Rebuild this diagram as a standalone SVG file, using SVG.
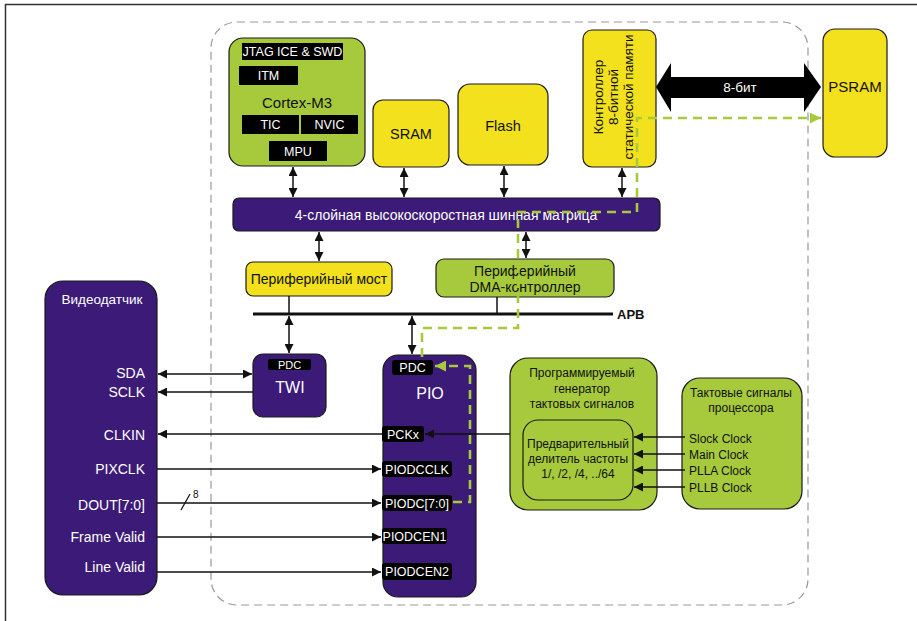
<svg xmlns="http://www.w3.org/2000/svg" width="917" height="621" viewBox="0 0 917 621">
<style>
text{font-family:"Liberation Sans",Arial,sans-serif;}
.purple{fill:#3b1a78;stroke:#1a1a1a;stroke-width:1.2;}
.yellow{fill:#f2e11c;stroke:#1a1a1a;stroke-width:1.2;}
.green{fill:#a6ca3b;stroke:#1a1a1a;stroke-width:1.2;}
.lbl{fill:#000;}
.wt{fill:#fff;}
.bt{fill:#111;}
.c{text-anchor:middle;}
.r{text-anchor:end;}
.ln{stroke:#111;stroke-width:1.5;fill:none;}
.dbl{marker-start:url(#ah);marker-end:url(#ah);}
.one{marker-end:url(#ah);}
.gd{stroke:#a6ca3b;stroke-width:2.6;fill:none;stroke-dasharray:9 6;}
</style>
<defs>
<marker id="ah" viewBox="0 0 10 10" refX="10" refY="5" markerWidth="10" markerHeight="9" markerUnits="userSpaceOnUse" orient="auto-start-reverse"><path d="M0,0 L10,5 L0,10 z" fill="#111"/></marker>
<marker id="ga" viewBox="0 0 10 10" refX="10" refY="5" markerWidth="12" markerHeight="11" markerUnits="userSpaceOnUse" orient="auto"><path d="M0,0 L10,5 L0,10 z" fill="#a6ca3b"/></marker>
</defs>
<rect width="917" height="621" fill="#fff"/>
<path d="M5.5,621 V4.5 H917" fill="none" stroke="#333" stroke-width="1.5"/>
<rect id="soc" x="211" y="22" width="597" height="583" rx="26" fill="none" stroke="#999" stroke-width="1.2" stroke-dasharray="8 5"/>

<g id="cortex">
<rect class="green" x="229" y="38" width="136" height="128" rx="14"/>
<rect class="lbl" x="242" y="43" width="101" height="17"/>
<text class="wt c" x="292.5" y="56" font-size="12.5">JTAG ICE &amp; SWD</text>
<rect class="lbl" x="239" y="66" width="59" height="19"/>
<text class="wt c" x="268.5" y="80" font-size="12.5">ITM</text>
<text class="bt c" x="297" y="108" font-size="15">Cortex-M3</text>
<rect class="lbl" x="242" y="115" width="57" height="19"/>
<text class="wt c" x="270.5" y="129" font-size="12.5">TIC</text>
<rect class="lbl" x="301" y="115" width="57" height="19"/>
<text class="wt c" x="329.5" y="129" font-size="12.5">NVIC</text>
<rect class="lbl" x="269" y="141" width="58" height="20"/>
<text class="wt c" x="298" y="156" font-size="12.5">MPU</text>
</g>
<g id="sram"><rect class="yellow" x="373" y="100" width="76" height="67" rx="10"/><text class="bt c" x="411" y="139" font-size="14.5">SRAM</text></g>
<g id="flash"><rect class="yellow" x="458" y="84" width="90" height="81" rx="12"/><text class="bt c" x="503" y="131" font-size="14.5">Flash</text></g>
<g id="smc"><rect class="yellow" x="583" y="30" width="73" height="137" rx="9"/>
<g transform="translate(613,97) rotate(-90)"><text class="bt c" x="0" y="-10" font-size="13.5">Контроллер</text><text class="bt c" x="0" y="5" font-size="13.5">8-битной</text><text class="bt c" x="0" y="20" font-size="13.5">статической памяти</text></g></g>
<g id="psram"><rect class="yellow" x="823" y="29" width="64" height="128" rx="12"/><text class="bt c" x="855" y="92" font-size="15">PSRAM</text></g>
<g id="bus"><rect class="purple" x="233" y="198" width="427" height="33" rx="6"/><text class="wt c" x="446" y="220" font-size="14">4-слойная высокоскоростная шинная матрица</text></g>
<g id="bridge"><rect class="yellow" x="246" y="262" width="146" height="34" rx="7"/><text class="bt c" x="319" y="284" font-size="14">Периферийный мост</text></g>
<g id="dma"><rect class="green" x="436" y="259" width="178" height="38" rx="8"/><text class="bt c" x="525" y="276" font-size="14">Периферийный</text><text class="bt c" x="525" y="292" font-size="14">DMA-контроллер</text></g>
<g id="sensor"><rect class="purple" x="45" y="281" width="112" height="314" rx="18"/>
<text class="wt c" x="102" y="304" font-size="13.5">Видеодатчик</text>
<text class="wt r" x="145" y="378" font-size="14">SDA</text>
<text class="wt r" x="145" y="397" font-size="14">SCLK</text>
<text class="wt r" x="145" y="440" font-size="14">CLKIN</text>
<text class="wt r" x="145" y="474" font-size="14">PIXCLK</text>
<text class="wt r" x="145" y="510" font-size="14">DOUT[7:0]</text>
<text class="wt r" x="145" y="542" font-size="14">Frame Valid</text>
<text class="wt r" x="145" y="572" font-size="14">Line Valid</text></g>
<g id="twi"><rect class="purple" x="253" y="354" width="73" height="63" rx="10"/>
<rect class="lbl" x="268" y="359" width="43" height="11" rx="2"/><text class="wt c" x="289.5" y="369" font-size="11">PDC</text>
<text class="wt c" x="290" y="393" font-size="16">TWI</text></g>
<g id="pio"><rect class="purple" x="383" y="355" width="93" height="242" rx="15"/>
<rect class="lbl" x="392" y="360" width="41" height="15" rx="3"/><text class="wt c" x="412.5" y="372" font-size="12.5">PDC</text>
<text class="wt c" x="430" y="399" font-size="16">PIO</text>
<rect class="lbl" x="382" y="426" width="42" height="16" rx="3"/><text class="wt c" x="403" y="439" font-size="12.5">PCKx</text>
<rect class="lbl" x="382" y="461" width="70" height="16" rx="3"/><text class="wt c" x="417" y="474" font-size="12.5">PIODCCLK</text>
<rect class="lbl" x="382" y="495" width="70" height="16" rx="3"/><text class="wt c" x="417" y="508" font-size="12.5">PIODC[7:0]</text>
<rect class="lbl" x="382" y="528" width="65" height="16" rx="3"/><text class="wt c" x="414.5" y="541" font-size="12.5">PIODCEN1</text>
<rect class="lbl" x="382" y="563" width="70" height="17" rx="3"/><text class="wt c" x="417" y="576" font-size="12.5">PIODCEN2</text></g>
<g id="clkgen"><rect class="green" x="510" y="358" width="147" height="152" rx="18"/>
<text class="bt c" x="582" y="377" font-size="12">Программируемый</text>
<text class="bt c" x="582" y="393" font-size="12">генератор</text>
<text class="bt c" x="582" y="408" font-size="12">тактовых сигналов</text>
<rect class="green" x="523" y="420" width="110" height="80" rx="15"/>
<text class="bt c" x="578" y="448" font-size="12">Предварительный</text>
<text class="bt c" x="578" y="463" font-size="12">делитель частоты</text>
<text class="bt c" x="578" y="478" font-size="12">1/, /2, /4, ../64</text></g>
<g id="cpuclk"><rect class="green" x="682" y="378" width="120" height="131" rx="18"/>
<text class="bt c" x="741" y="397" font-size="12">Тактовые сигналы</text>
<text class="bt c" x="741" y="412" font-size="12">процессора</text>
<text class="bt" x="689" y="443" font-size="12">Slock Clock</text>
<text class="bt" x="689" y="459" font-size="12">Main Clock</text>
<text class="bt" x="689" y="475" font-size="12">PLLA Clock</text>
<text class="bt" x="689" y="492" font-size="12">PLLB Clock</text></g>

<g id="connectors">
<line class="ln dbl" x1="293" y1="167" x2="293" y2="197"/>
<line class="ln dbl" x1="404" y1="168" x2="404" y2="197"/>
<line class="ln dbl" x1="504" y1="166" x2="504" y2="197"/>
<line class="ln dbl" x1="622" y1="168" x2="622" y2="197"/>
<line class="ln dbl" x1="319" y1="232" x2="319" y2="261"/>
<line class="ln dbl" x1="526" y1="232" x2="526" y2="258"/>
<line class="ln" x1="289" y1="296" x2="289" y2="314"/>
<line class="ln" x1="497" y1="297" x2="497" y2="314"/>
<line x1="253" y1="314" x2="613" y2="314" stroke="#111" stroke-width="3"/>
<text x="617" y="319" font-size="13" font-weight="bold" fill="#111">APB</text>
<line class="ln dbl" x1="289" y1="316" x2="289" y2="353"/>
<line class="ln dbl" x1="412" y1="316" x2="412" y2="354"/>
<polygon points="656,87 671,63 671,77 804,77 804,63 821,87 804,112 804,98 671,98 671,112" fill="#000"/>
<text class="wt c" x="740" y="92" font-size="13.5">8-бит</text>
<line class="ln dbl" x1="158" y1="374" x2="252" y2="374"/>
<line class="ln one" x1="253" y1="392" x2="158" y2="392"/>
<line class="ln one" x1="510" y1="434" x2="425" y2="434"/>
<line class="ln one" x1="382" y1="434" x2="158" y2="434"/>
<line class="ln one" x1="157" y1="469" x2="381" y2="469"/>
<line class="ln one" x1="157" y1="503" x2="381" y2="503"/>
<line x1="181" y1="510" x2="190" y2="494" stroke="#111" stroke-width="1.2"/>
<text x="193" y="498" font-size="10" fill="#111">8</text>
<line class="ln one" x1="157" y1="537" x2="381" y2="537"/>
<line class="ln one" x1="157" y1="572" x2="381" y2="572"/>
<line class="ln one" x1="685" y1="437" x2="634" y2="437"/>
<line class="ln one" x1="685" y1="454" x2="634" y2="454"/>
<line class="ln one" x1="685" y1="470" x2="634" y2="470"/>
<line class="ln one" x1="685" y1="487" x2="634" y2="487"/>
<path class="gd" d="M422,357 V328 H518 V212 H637 V118 H821" marker-end="url(#ga)"/>
<path class="gd" d="M453,502 H470 V366 H435" marker-end="url(#ga)"/>
</g>
</svg>
